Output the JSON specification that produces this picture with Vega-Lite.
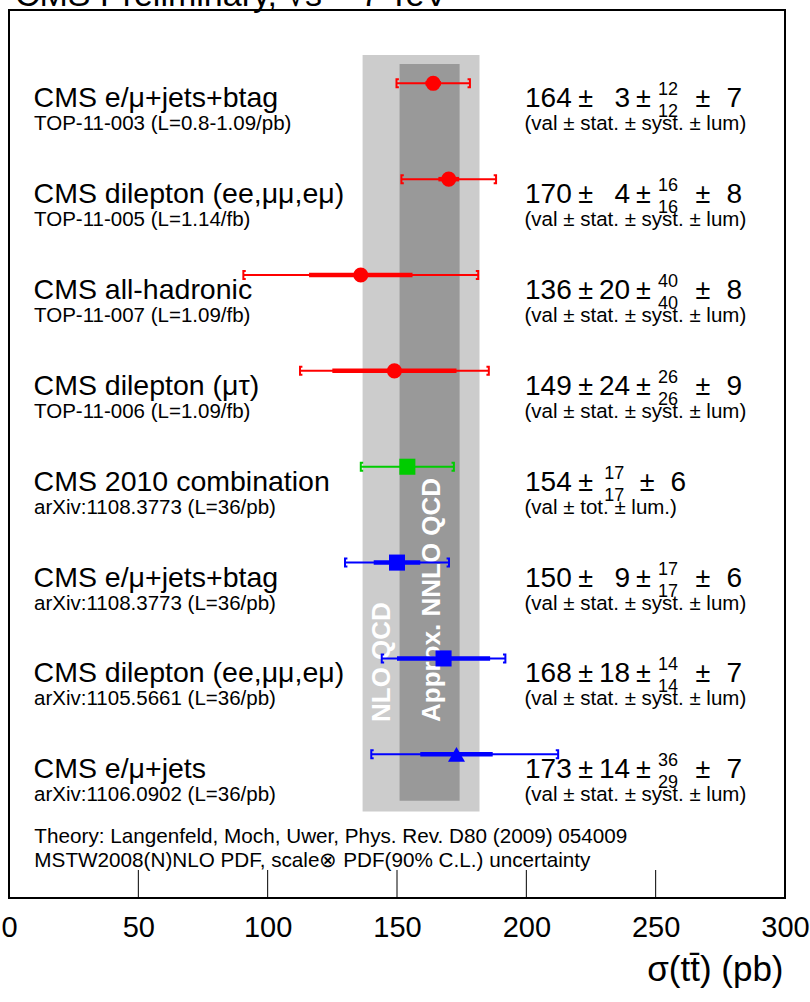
{
  "$schema": "https://vega.github.io/schema/vega-lite/v6.json",
  "width": 776,
  "height": 888,
  "autosize": "none",
  "padding": {"left": 9, "top": 10, "right": 25, "bottom": 104},
  "background": "white",
  "config": {
    "font": "Liberation Sans",
    "view": {"stroke": "black", "strokeWidth": 2},
    "text": {"font": "Liberation Sans", "color": "black"}
  },
  "datasets": {
    "meas": [
      {"row": 1, "label": "CMS e/μ+jets+btag", "ref": "TOP-11-003 (L=0.8-1.09/pb)", "series": "2011", "marker": "circle", "val": 164, "totLo": 149.8, "totHi": 178.2, "statLo": 161, "statHi": 167, "vtxt": "164", "stxt": "3", "sup": "12", "sub": "12", "lum": "7", "note": "(val ± stat. ± syst. ± lum)"},
      {"row": 2, "label": "CMS dilepton (ee,μμ,eμ)", "ref": "TOP-11-005 (L=1.14/fb)", "series": "2011", "marker": "circle", "val": 170, "totLo": 151.7, "totHi": 188.3, "statLo": 166, "statHi": 174, "vtxt": "170", "stxt": "4", "sup": "16", "sub": "16", "lum": "8", "note": "(val ± stat. ± syst. ± lum)"},
      {"row": 3, "label": "CMS all-hadronic", "ref": "TOP-11-007 (L=1.09/fb)", "series": "2011", "marker": "circle", "val": 136, "totLo": 90.6, "totHi": 181.4, "statLo": 116, "statHi": 156, "vtxt": "136", "stxt": "20", "sup": "40", "sub": "40", "lum": "8", "note": "(val ± stat. ± syst. ± lum)"},
      {"row": 4, "label": "CMS dilepton (μτ)", "ref": "TOP-11-006 (L=1.09/fb)", "series": "2011", "marker": "circle", "val": 149, "totLo": 112.5, "totHi": 185.5, "statLo": 125, "statHi": 173, "vtxt": "149", "stxt": "24", "sup": "26", "sub": "26", "lum": "9", "note": "(val ± stat. ± syst. ± lum)"},
      {"row": 5, "label": "CMS 2010 combination", "ref": "arXiv:1108.3773 (L=36/pb)", "series": "combo", "marker": "square", "val": 154, "totLo": 136.0, "totHi": 172.0, "statLo": null, "statHi": null, "vtxt": "154", "stxt": null, "sup": "17", "sub": "17", "lum": "6", "note": "(val ± tot. ± lum.)"},
      {"row": 6, "label": "CMS e/μ+jets+btag", "ref": "arXiv:1108.3773 (L=36/pb)", "series": "2010", "marker": "square", "val": 150, "totLo": 129.9, "totHi": 170.1, "statLo": 141, "statHi": 159, "vtxt": "150", "stxt": "9", "sup": "17", "sub": "17", "lum": "6", "note": "(val ± stat. ± syst. ± lum)"},
      {"row": 7, "label": "CMS dilepton (ee,μμ,eμ)", "ref": "arXiv:1105.5661 (L=36/pb)", "series": "2010", "marker": "square", "val": 168, "totLo": 144.1, "totHi": 191.9, "statLo": 150, "statHi": 186, "vtxt": "168", "stxt": "18", "sup": "14", "sub": "14", "lum": "7", "note": "(val ± stat. ± syst. ± lum)"},
      {"row": 8, "label": "CMS e/μ+jets", "ref": "arXiv:1106.0902 (L=36/pb)", "series": "2010", "marker": "triangle", "val": 173, "totLo": 140.05, "totHi": 212.3, "statLo": 159, "statHi": 187, "vtxt": "173", "stxt": "14", "sup": "36", "sub": "29", "lum": "7", "note": "(val ± stat. ± syst. ± lum)"}
    ],
    "ticks": [
      {"v": 50, "row": 9.4991, "row2": 9.207},
      {"v": 100, "row": 9.4991, "row2": 9.207},
      {"v": 150, "row": 9.4991, "row2": 9.207},
      {"v": 200, "row": 9.4991, "row2": 9.207},
      {"v": 250, "row": 9.4991, "row2": 9.207}
    ],
    "bands": [
      {"band": "nlo", "lo": 136.7, "hi": 181.9, "row": 0.7048, "row2": 8.598},
      {"band": "nnlo", "lo": 151.0, "hi": 174.2, "row": 0.7987, "row2": 8.4855}
    ],
    "bandLabels": [
      {"text": "NLO QCD", "x": 147.2, "row": 7.663},
      {"text": "Approx. NNLO QCD", "x": 166.5, "row": 7.663}
    ],
    "notes": [
      {"text": "Theory: Langenfeld, Moch, Uwer, Phys. Rev. D80 (2009) 054009", "row": 8.925},
      {"text": "MSTW2008(N)NLO PDF, scale⊗ PDF(90% C.L.) uncertainty", "row": 9.175}
    ],
    "heading": [
      {"text": "CMS Preliminary, √s = 7 TeV", "row": 0.196}
    ]
  },
  "encoding": {
    "y": {"field": "row", "type": "quantitative", "scale": {"domain": [0.2353, 9.4991], "reverse": true, "nice": false, "zero": false}, "axis": null}
  },
  "layer": [
    {
      "data": {"name": "ticks"},
      "mark": {"type": "rule", "color": "black", "strokeWidth": 1},
      "encoding": {
        "x": {"field": "v", "type": "quantitative", "scale": {"domain": [0, 300], "nice": false, "zero": false},
          "axis": {"values": [0, 50, 100, 150, 200, 250, 300], "format": "d", "ticks": false, "domain": false, "grid": false,
            "labelFont": "Liberation Sans", "labelFontSize": 29, "labelColor": "black", "labelPadding": 15, "labelFlush": false, "labelOverlap": false,
            "title": "σ(tt̄) (pb)", "titleFont": "Liberation Sans", "titleFontSize": 35, "titleFontWeight": "normal", "titleColor": "black",
            "titleAnchor": "end", "titleAlign": "right", "titleBaseline": "alphabetic", "titleX": 774, "titleY": 82}},
        "y2": {"field": "row2"}
      }
    },
    {
      "data": {"name": "bands"},
      "transform": [{"filter": "datum.band === 'nlo'"}],
      "mark": {"type": "rect", "color": "#cccccc"},
      "encoding": {
        "x": {"field": "lo", "type": "quantitative"},
        "x2": {"field": "hi"},
        "y2": {"field": "row2"}
      }
    },
    {
      "data": {"name": "bands"},
      "transform": [{"filter": "datum.band === 'nnlo'"}],
      "mark": {"type": "rect", "color": "#999999"},
      "encoding": {
        "x": {"field": "lo", "type": "quantitative"},
        "x2": {"field": "hi"},
        "y2": {"field": "row2"}
      }
    },
    {
      "data": {"name": "bandLabels"},
      "mark": {"type": "text", "angle": 270, "align": "left", "baseline": "alphabetic", "fontSize": 26, "fontWeight": "bold", "color": "white"},
      "encoding": {
        "x": {"field": "x", "type": "quantitative"},
        "text": {"field": "text"}
      }
    },
    {
      "data": {"name": "meas"},
      "mark": {"type": "rule", "strokeWidth": 2},
      "encoding": {
        "x": {"field": "totLo", "type": "quantitative"},
        "x2": {"field": "totHi"},
        "color": {"field": "series", "type": "nominal", "scale": {"domain": ["2011", "combo", "2010"], "range": ["#ff0000", "#00cc00", "#0000ff"]}, "legend": null}
      }
    },
    {
      "data": {"name": "meas"},
      "transform": [{"filter": "datum.statLo != null"}],
      "mark": {"type": "rule", "strokeWidth": 4.5},
      "encoding": {
        "x": {"field": "statLo", "type": "quantitative"},
        "x2": {"field": "statHi"},
        "color": {"field": "series", "type": "nominal", "legend": null}
      }
    },
    {
      "data": {"name": "meas"},
      "mark": {"type": "point", "shape": "M 0.6 -1 L 0 -1 L 0 1 L 0.6 1", "filled": false, "size": 64, "strokeWidth": 2, "opacity": 1},
      "encoding": {
        "x": {"field": "totLo", "type": "quantitative"},
        "color": {"field": "series", "type": "nominal", "legend": null}
      }
    },
    {
      "data": {"name": "meas"},
      "mark": {"type": "point", "shape": "M -0.6 -1 L 0 -1 L 0 1 L -0.6 1", "filled": false, "size": 64, "strokeWidth": 2, "opacity": 1},
      "encoding": {
        "x": {"field": "totHi", "type": "quantitative"},
        "color": {"field": "series", "type": "nominal", "legend": null}
      }
    },
    {
      "data": {"name": "meas"},
      "mark": {"type": "point", "filled": true, "opacity": 1, "strokeWidth": 0},
      "encoding": {
        "x": {"field": "val", "type": "quantitative"},
        "color": {"field": "series", "type": "nominal", "legend": null},
        "shape": {"field": "marker", "type": "nominal", "scale": {"domain": ["circle", "square", "triangle"], "range": ["circle", "square", "triangle-up"]}, "legend": null},
        "size": {"field": "marker", "type": "nominal", "scale": {"domain": ["circle", "square", "triangle"], "range": [227, 289, 340]}, "legend": null}
      }
    },
    {
      "data": {"name": "meas"},
      "mark": {"type": "text", "align": "left", "baseline": "alphabetic", "fontSize": 28.5, "dy": 24},
      "encoding": {
        "x": {"datum": 9.5},
        "text": {"field": "label"}
      }
    },
    {
      "data": {"name": "meas"},
      "mark": {"type": "text", "align": "left", "baseline": "alphabetic", "fontSize": 20.5, "dy": 47},
      "encoding": {
        "x": {"datum": 9.7},
        "text": {"field": "ref"}
      }
    },
    {
      "data": {"name": "meas"},
      "mark": {"type": "text", "align": "left", "baseline": "alphabetic", "fontSize": 28, "dy": 24},
      "encoding": {
        "x": {"datum": 199.5},
        "text": {"field": "vtxt"}
      }
    },
    {
      "data": {"name": "meas"},
      "mark": {"type": "text", "align": "left", "baseline": "alphabetic", "fontSize": 27, "dy": 24, "text": "±"},
      "encoding": {
        "x": {"datum": 220.1}
      }
    },
    {
      "data": {"name": "meas"},
      "transform": [{"filter": "datum.stxt != null"}],
      "layer": [
        {
          "mark": {"type": "text", "align": "right", "baseline": "alphabetic", "fontSize": 28, "dy": 24},
          "encoding": {"x": {"datum": 240.1}, "text": {"field": "stxt"}}
        },
        {
          "mark": {"type": "text", "align": "left", "baseline": "alphabetic", "fontSize": 27, "dy": 24, "text": "±"},
          "encoding": {"x": {"datum": 242.4}}
        },
        {
          "mark": {"type": "text", "align": "left", "baseline": "alphabetic", "fontSize": 18, "dy": 12},
          "encoding": {"x": {"datum": 250.9}, "text": {"field": "sup"}}
        },
        {
          "mark": {"type": "text", "align": "left", "baseline": "alphabetic", "fontSize": 18, "dy": 34},
          "encoding": {"x": {"datum": 250.9}, "text": {"field": "sub"}}
        },
        {
          "mark": {"type": "text", "align": "left", "baseline": "alphabetic", "fontSize": 27, "dy": 24, "text": "±"},
          "encoding": {"x": {"datum": 265.4}}
        },
        {
          "mark": {"type": "text", "align": "right", "baseline": "alphabetic", "fontSize": 28, "dy": 24},
          "encoding": {"x": {"datum": 283.4}, "text": {"field": "lum"}}
        }
      ]
    },
    {
      "data": {"name": "meas"},
      "transform": [{"filter": "datum.stxt == null"}],
      "layer": [
        {
          "mark": {"type": "text", "align": "left", "baseline": "alphabetic", "fontSize": 18, "dy": 12},
          "encoding": {"x": {"datum": 230.1}, "text": {"field": "sup"}}
        },
        {
          "mark": {"type": "text", "align": "left", "baseline": "alphabetic", "fontSize": 18, "dy": 34},
          "encoding": {"x": {"datum": 230.1}, "text": {"field": "sub"}}
        },
        {
          "mark": {"type": "text", "align": "left", "baseline": "alphabetic", "fontSize": 27, "dy": 24, "text": "±"},
          "encoding": {"x": {"datum": 243.8}}
        },
        {
          "mark": {"type": "text", "align": "right", "baseline": "alphabetic", "fontSize": 28, "dy": 24},
          "encoding": {"x": {"datum": 261.8}, "text": {"field": "lum"}}
        }
      ]
    },
    {
      "data": {"name": "meas"},
      "mark": {"type": "text", "align": "left", "baseline": "alphabetic", "fontSize": 20.5, "dy": 47},
      "encoding": {
        "x": {"datum": 199.3},
        "text": {"field": "note"}
      }
    },
    {
      "data": {"name": "notes"},
      "mark": {"type": "text", "align": "left", "baseline": "alphabetic", "fontSize": 20.7},
      "encoding": {
        "x": {"datum": 9.8},
        "text": {"field": "text"}
      }
    },
    {
      "data": {"name": "heading"},
      "mark": {"type": "text", "align": "left", "baseline": "alphabetic", "fontSize": 34},
      "encoding": {
        "x": {"datum": 2.3},
        "text": {"field": "text"}
      }
    }
  ]
}
